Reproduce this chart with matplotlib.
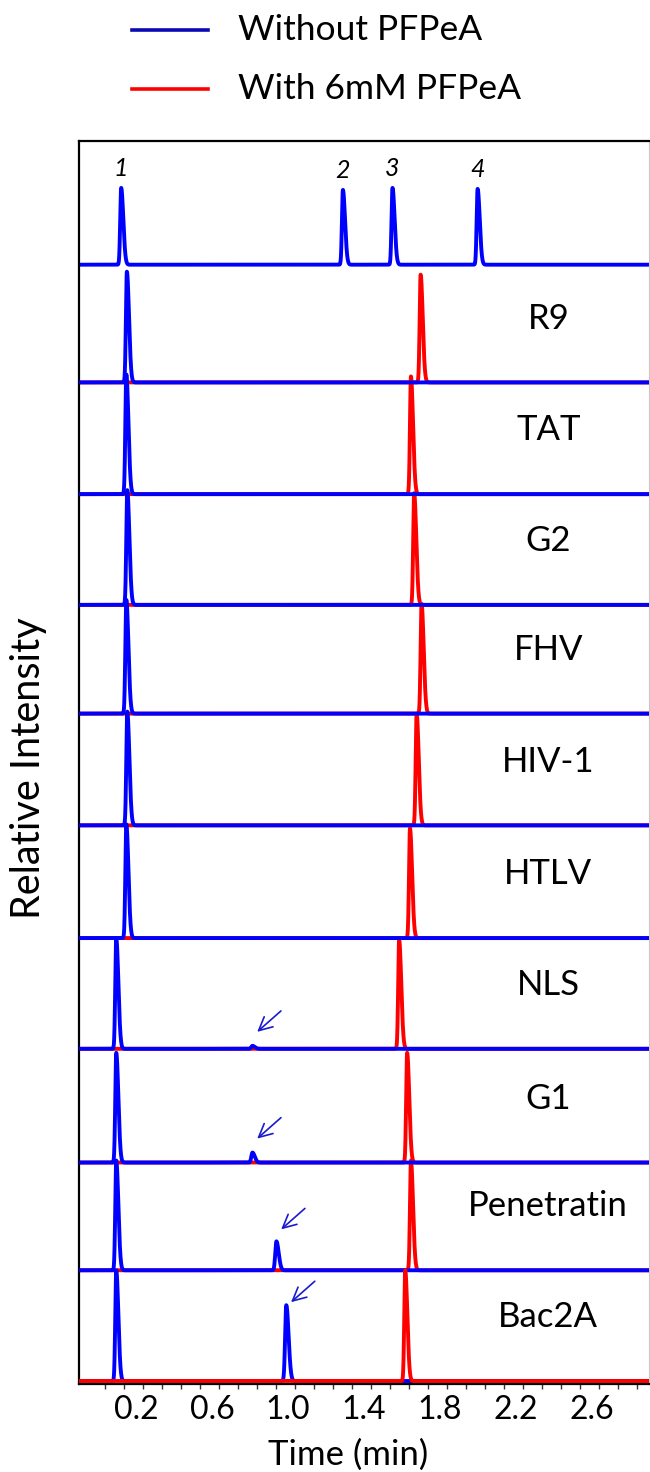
import numpy as np
import matplotlib
matplotlib.use("Agg")
import matplotlib.pyplot as plt

plt.rcParams['font.family'] = ['Lato', 'DejaVu Sans']

# panels from top to bottom
panels = ['', 'R9', 'TAT', 'G2', 'FHV', 'HIV-1', 'HTLV', 'NLS', 'G1', 'Penetratin', 'Bac2A']
baselines = [1119, 1001, 889, 778, 669, 557, 444, 333, 219, 111, 0]

# standard mix in the top panel (blue only)
std_rt = [0.122, 1.289, 1.550, 1.998]
std_h = [77, 75, 77, 76]
std_names = ['1', '2', '3', '4']

# without PFPeA: first peak + small late peak (arrowed)
blue_rt = [0.152, 0.149, 0.154, 0.149, 0.154, 0.149, 0.096, 0.096, 0.096, 0.096]
blue_h = [111, 120, 115, 114, 114, 114, 111, 110, 110, 111]
minor_rt = [None, None, None, None, None, None, 0.813, 0.813, 0.939, 0.991]
minor_h = [0, 0, 0, 0, 0, 0, 3, 10, 29, 76]
arrow_gap = [0, 0, 0, 0, 0, 0, 14, 14, 12, 3]

# with 6mM PFPeA
red_rt = [1.698, 1.647, 1.664, 1.703, 1.677, 1.642, 1.585, 1.627, 1.647, 1.617]
red_h = [108, 118, 112, 110, 112, 110, 109, 110, 110, 111]

BLUE = '#0000ff'
RED = '#ff0000'

t = np.linspace(-0.1, 2.9, 6001)


def peak(rt, h, sl=0.005, sr=0.011):
    s = np.where(t < rt, sl, sr)
    return h * np.exp(-0.5 * ((t - rt) / s) ** 2)


fig = plt.figure(figsize=(6.5, 14.72), dpi=100)
ax = fig.add_axes([79 / 650, 88 / 1472, 570 / 650, 1243 / 1472])

# top panel
y0 = baselines[0]
trace = np.full_like(t, y0, dtype=float)
for rt, h in zip(std_rt, std_h):
    trace += peak(rt, h)
ax.plot(t, trace, color=BLUE, lw=2.8, solid_joinstyle='round')
for rt, h, nm in zip(std_rt, std_h, std_names):
    ax.text(rt, y0 + h + 19, nm, ha='center', va='center', fontsize=18, style='italic')

for i, name in enumerate(panels[1:]):
    y0 = baselines[i + 1]
    blue = np.full_like(t, y0, dtype=float) + peak(blue_rt[i], blue_h[i])
    if minor_rt[i] is not None:
        blue += peak(minor_rt[i], minor_h[i], 0.006, 0.012)
    red = np.full_like(t, y0, dtype=float) + peak(red_rt[i], red_h[i])
    last = i == len(panels) - 2
    ax.plot(t, red, color=RED, lw=2.8, zorder=3 if last else 2)
    ax.plot(t, blue, color=BLUE, lw=2.8, zorder=2 if last else 3)
    if minor_rt[i] is not None:
        tip = (minor_rt[i] + 0.025, y0 + minor_h[i] + arrow_gap[i])
        tail = (tip[0] + 0.125, tip[1] + 21)
        ax.annotate('', xy=tip, xytext=tail,
                    arrowprops=dict(arrowstyle='->', color='#1a1ad0', lw=1.2,
                                    mutation_scale=24, shrinkA=0, shrinkB=0))
    ax.text(2.37, y0 + 64, name, ha='center', va='center', fontsize=25)

ax.set_xlim(-0.1, 2.9)
ax.set_ylim(-3, 1243)
ax.set_yticks([])
ax.set_xticks([0.2, 0.6, 1.0, 1.4, 1.8, 2.2, 2.6])
ax.set_xticklabels(['0.2', '0.6', '1.0', '1.4', '1.8', '2.2', '2.6'])
ax.set_xticks(np.arange(0.035, 2.9, 0.1), minor=True)
ax.tick_params(axis='x', which='major', length=0, labelsize=23, pad=8)
ax.tick_params(axis='x', which='minor', length=3.5, width=1, color='#333333', direction='out')

for side in ['left', 'top', 'bottom']:
    ax.spines[side].set_linewidth(1.6)
    ax.spines[side].set_color('black')
ax.spines['right'].set_linewidth(0.8)
ax.spines['right'].set_color('#c8c8c8')

fig.text(348 / 650, 1 - 1455 / 1472, 'Time (min)', ha='center', va='center', fontsize=25)
fig.text(29 / 650, 1 - 768 / 1472, 'Relative Intensity', ha='center', va='center',
         rotation=90, fontsize=28.5)

# legend drawn by hand at the top
for ypx, col, lab in [(30, '#0a0ab4', 'Without PFPeA'), (89, RED, 'With 6mM PFPeA')]:
    yy = 1 - ypx / 1472
    fig.add_artist(plt.Line2D([132 / 650, 208 / 650], [yy, yy], color=col, lw=2.6,
                              transform=fig.transFigure))
    fig.text(238 / 650, yy, lab, ha='left', va='center', fontsize=25.5)

fig.savefig('out.png', dpi=100)
